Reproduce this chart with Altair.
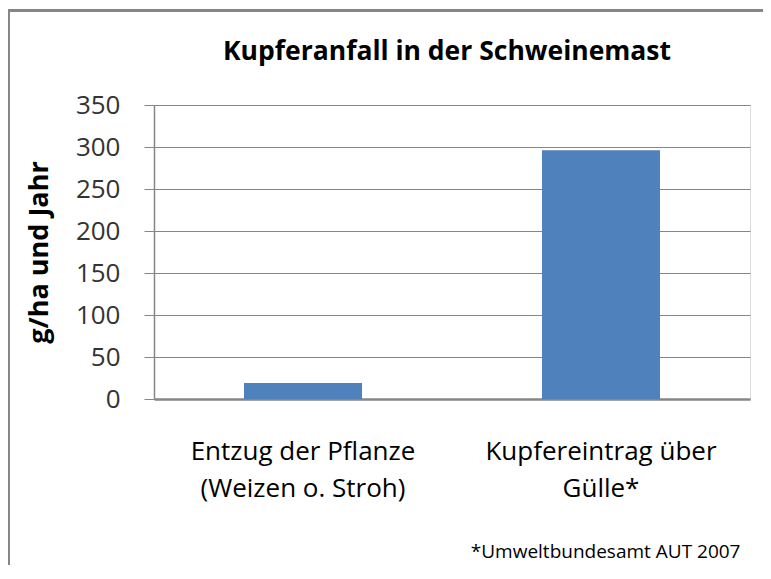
import json
import altair as alt
import pandas as pd

# ---- data ----
categories = ["Entzug der Pflanze (Weizen o. Stroh)", "Kupfereintrag über Gülle*"]
label_lines = [["Entzug der Pflanze", "(Weizen o. Stroh)"], ["Kupfereintrag über", "Gülle*"]]
values = [19, 296]
y_ticks = [0, 50, 100, 150, 200, 250, 300, 350]
title_text = "Kupferanfall in der Schweinemast"
y_title = "g/ha und Jahr"
footnote = "*Umweltbundesamt AUT 2007"

df = pd.DataFrame({"Kategorie": categories, "Wert": values})

# label expression: multi-line category labels
expr = "''"
for cat, lines in reversed(list(zip(categories, label_lines))):
    expr = f"datum.value == {json.dumps(cat)} ? {json.dumps(lines)} : ({expr})"

FONT = "Open Sans"
GREY = "#868686"

bars = alt.Chart(df).mark_bar(color="#4F81BD").encode(
    x=alt.X(
        "Kategorie:N",
        sort=categories,
        scale=alt.Scale(paddingInner=0.604, paddingOuter=0.302),
        axis=alt.Axis(
            title=footnote,
            titleFont=FONT,
            titleFontSize=19,
            titleFontWeight="normal",
            titleColor="#000000",
            titleAlign="right",
            titleBaseline="alphabetic",
            titleX=586,
            titleY=158,
            labelExpr=expr,
            labelFont=FONT,
            labelFontSize=26,
            labelColor="#000000",
            labelLineHeight=37,
            labelPadding=39,
            labelLimit=0,
            labelAngle=0,
            ticks=False,
            domainColor=GREY,
            domainWidth=2.5,
            grid=False,
        ),
    ),
    y=alt.Y(
        "Wert:Q",
        scale=alt.Scale(domain=[0, 350], nice=False),
        axis=alt.Axis(
            values=y_ticks,
            title=y_title,
            titleFont=FONT,
            titleFontSize=27,
            titleFontWeight="bold",
            titleColor="#000000",
            titleAngle=-90,
            titleAlign="center",
            titleBaseline="middle",
            titleX=-115,
            titleY=147,
            labelFont=FONT,
            labelFontSize=26,
            labelColor="#333333",
            labelPadding=24,
            tickSize=10,
            tickColor=GREY,
            domainColor=GREY,
            domainWidth=1.5,
            gridColor=GREY,
            gridWidth=1.2,
            gridOpacity=1,
        ),
    ),
)

frame_df = pd.DataFrame({"f": [0]})
top_edge = alt.Chart(frame_df).mark_rule(color=GREY, strokeWidth=3).encode(
    x=alt.value(-150), x2=alt.value(620), y=alt.value(-94.5)
)
left_edge = alt.Chart(frame_df).mark_rule(color=GREY, strokeWidth=3).encode(
    x=alt.value(-145.5), y=alt.value(-96), y2=alt.value(480)
)

chart = alt.layer(bars, top_edge, left_edge).properties(
    width=596,
    height=294,
    title=alt.TitleParams(
        text=title_text,
        font=FONT,
        fontSize=26.5,
        fontWeight="bold",
        color="#000000",
        anchor="middle",
        baseline="bottom",
        offset=0,
        dy=85,
        dx=-5,
    ),
    padding={"left": 146, "top": 97, "right": 13, "bottom": 166},
    autosize=alt.AutoSizeParams(type="none"),
).configure_view(strokeWidth=0).configure(background="#ffffff")

chart.save("out.html", embed_options={"renderer": "svg", "actions": False})
